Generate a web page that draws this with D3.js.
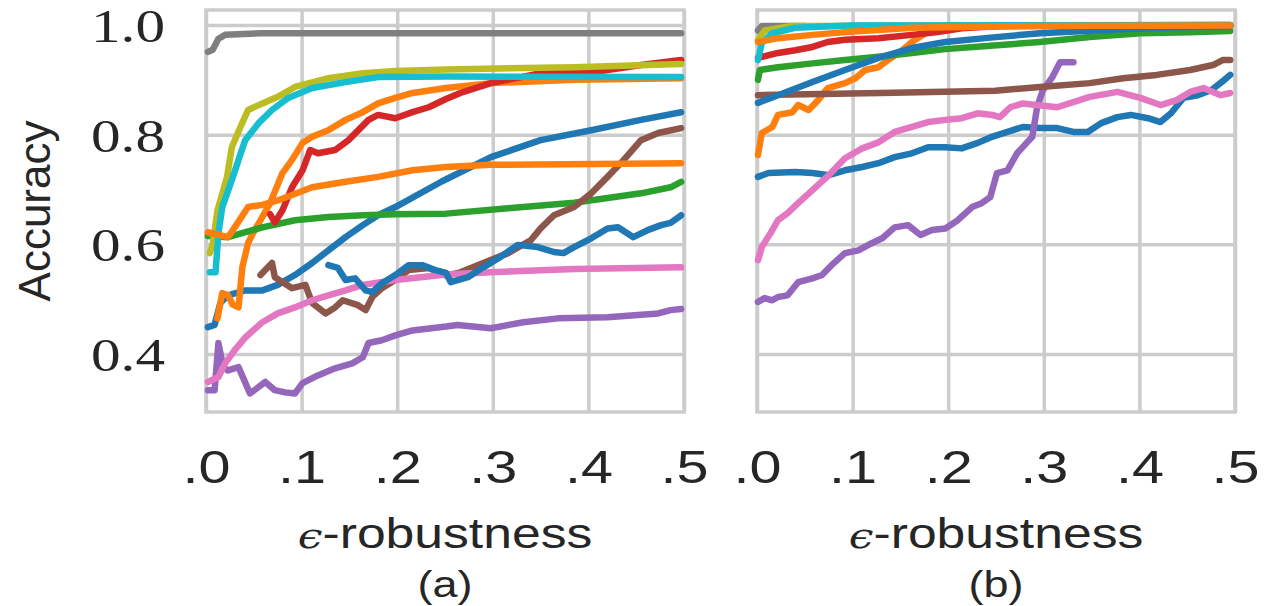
<!DOCTYPE html>
<html>
<head>
<meta charset="utf-8">
<script src="https://cdn.jsdelivr.net/npm/d3@7"></script>
<style>
  body { margin: 0; background: #fff; }
</style>
</head>
<body>
<script>
// panel (a): [epsilon, accuracy]
var aBlue1 = [[0.002,0.449],[0.009,0.453],[0.015,0.493],[0.023,0.507],[0.041,0.516],[0.059,0.516],[0.075,0.526],[0.093,0.544],[0.111,0.566],[0.128,0.589],[0.146,0.613],[0.164,0.635],[0.18,0.653],[0.198,0.668],[0.247,0.715],[0.298,0.759],[0.35,0.79],[0.403,0.808],[0.455,0.827],[0.497,0.841]];
var aOrange1 = [[0.012,0.465],[0.017,0.511],[0.023,0.507],[0.028,0.49],[0.034,0.485],[0.038,0.558],[0.044,0.602],[0.049,0.62],[0.059,0.65],[0.067,0.675],[0.08,0.73],[0.09,0.754],[0.101,0.785],[0.111,0.796],[0.128,0.808],[0.146,0.827],[0.164,0.841],[0.18,0.857],[0.198,0.867],[0.216,0.876],[0.251,0.885],[0.298,0.894],[0.385,0.9],[0.497,0.903]];
var aGreen = [[0.002,0.615],[0.023,0.613],[0.059,0.631],[0.093,0.644],[0.128,0.65],[0.164,0.653],[0.198,0.655],[0.251,0.656],[0.316,0.666],[0.385,0.676],[0.455,0.693],[0.486,0.704],[0.497,0.714]];
var aRed = [[0.067,0.655],[0.072,0.64],[0.08,0.662],[0.09,0.704],[0.101,0.735],[0.109,0.772],[0.117,0.766],[0.135,0.772],[0.149,0.79],[0.17,0.827],[0.18,0.836],[0.198,0.83],[0.216,0.841],[0.233,0.85],[0.251,0.865],[0.266,0.876],[0.298,0.894],[0.35,0.912],[0.413,0.916],[0.455,0.927],[0.497,0.936]];
var aPurple = [[0.002,0.334],[0.009,0.334],[0.013,0.42],[0.018,0.376],[0.023,0.37],[0.034,0.376],[0.046,0.328],[0.062,0.349],[0.072,0.334],[0.083,0.33],[0.093,0.328],[0.101,0.347],[0.117,0.361],[0.135,0.374],[0.153,0.383],[0.164,0.394],[0.17,0.42],[0.184,0.425],[0.198,0.434],[0.216,0.443],[0.251,0.45],[0.263,0.453],[0.298,0.447],[0.332,0.458],[0.368,0.465],[0.42,0.467],[0.473,0.474],[0.486,0.48],[0.497,0.482]];
var aBrown = [[0.057,0.544],[0.069,0.566],[0.072,0.54],[0.09,0.52],[0.104,0.526],[0.111,0.493],[0.125,0.474],[0.135,0.485],[0.143,0.498],[0.159,0.489],[0.167,0.48],[0.174,0.504],[0.184,0.52],[0.198,0.535],[0.212,0.553],[0.233,0.557],[0.251,0.543],[0.266,0.549],[0.29,0.566],[0.316,0.584],[0.34,0.608],[0.35,0.629],[0.364,0.653],[0.385,0.668],[0.403,0.693],[0.42,0.723],[0.437,0.754],[0.455,0.79],[0.473,0.803],[0.497,0.812]];
var aPink = [[0.002,0.349],[0.013,0.358],[0.02,0.383],[0.03,0.407],[0.041,0.43],[0.059,0.458],[0.075,0.474],[0.093,0.485],[0.111,0.498],[0.128,0.507],[0.146,0.516],[0.164,0.526],[0.198,0.535],[0.251,0.545],[0.298,0.549],[0.385,0.555],[0.497,0.558]];
var aGray = [[0.002,0.951],[0.007,0.955],[0.013,0.975],[0.02,0.982],[0.057,0.985],[0.497,0.985]];
var aOlive = [[0.004,0.584],[0.007,0.6],[0.012,0.662],[0.022,0.723],[0.027,0.777],[0.036,0.814],[0.044,0.845],[0.059,0.857],[0.075,0.869],[0.093,0.887],[0.128,0.903],[0.164,0.912],[0.198,0.916],[0.251,0.919],[0.385,0.923],[0.497,0.929]];
var aCyan = [[0.004,0.549],[0.01,0.549],[0.013,0.62],[0.017,0.668],[0.027,0.717],[0.034,0.754],[0.041,0.79],[0.055,0.821],[0.069,0.845],[0.086,0.867],[0.111,0.885],[0.146,0.896],[0.18,0.905],[0.251,0.906],[0.497,0.905]];
var aBlue2 = [[0.128,0.562],[0.138,0.557],[0.146,0.535],[0.156,0.538],[0.167,0.516],[0.174,0.513],[0.184,0.529],[0.198,0.544],[0.212,0.562],[0.226,0.562],[0.24,0.553],[0.251,0.548],[0.256,0.531],[0.274,0.54],[0.29,0.558],[0.308,0.577],[0.326,0.599],[0.347,0.595],[0.364,0.586],[0.374,0.584],[0.385,0.595],[0.403,0.611],[0.42,0.629],[0.431,0.631],[0.447,0.613],[0.462,0.626],[0.476,0.635],[0.486,0.639],[0.497,0.653]];
var aOrange2 = [[0.002,0.622],[0.023,0.613],[0.03,0.631],[0.044,0.668],[0.059,0.672],[0.075,0.68],[0.111,0.704],[0.146,0.714],[0.18,0.723],[0.216,0.735],[0.251,0.741],[0.298,0.745],[0.497,0.748]];

// panel (b): [epsilon, accuracy]
var bBlue1 = [[0.001,0.723],[0.012,0.73],[0.04,0.732],[0.058,0.73],[0.075,0.726],[0.092,0.735],[0.11,0.741],[0.127,0.748],[0.144,0.759],[0.162,0.766],[0.179,0.777],[0.197,0.777],[0.214,0.775],[0.231,0.785],[0.244,0.795],[0.262,0.805],[0.278,0.814],[0.296,0.812],[0.314,0.812],[0.331,0.805],[0.346,0.805],[0.36,0.821],[0.377,0.832],[0.391,0.836],[0.409,0.83],[0.422,0.823],[0.433,0.839],[0.446,0.867],[0.461,0.872],[0.475,0.881],[0.489,0.9],[0.495,0.909]];
var bOrange1 = [[0.001,0.763],[0.005,0.803],[0.016,0.814],[0.022,0.836],[0.037,0.841],[0.043,0.854],[0.054,0.845],[0.064,0.863],[0.074,0.885],[0.092,0.894],[0.103,0.903],[0.113,0.918],[0.127,0.923],[0.137,0.936],[0.152,0.954],[0.162,0.969],[0.176,0.985],[0.186,0.994],[0.212,0.998],[0.495,1.0]];
var bGreen = [[0.001,0.9],[0.003,0.918],[0.022,0.923],[0.058,0.93],[0.092,0.936],[0.127,0.942],[0.162,0.949],[0.197,0.956],[0.244,0.962],[0.296,0.969],[0.348,0.978],[0.401,0.985],[0.453,0.987],[0.495,0.989]];
var bRed = [[0.001,0.94],[0.022,0.949],[0.04,0.954],[0.058,0.96],[0.074,0.969],[0.092,0.973],[0.127,0.976],[0.162,0.982],[0.189,0.987],[0.214,0.994],[0.254,0.998],[0.495,0.999]];
var bPurple = [[0.001,0.495],[0.008,0.502],[0.016,0.498],[0.022,0.504],[0.032,0.507],[0.043,0.531],[0.058,0.538],[0.068,0.544],[0.078,0.562],[0.092,0.584],[0.106,0.589],[0.12,0.602],[0.131,0.611],[0.144,0.631],[0.158,0.635],[0.171,0.617],[0.183,0.626],[0.197,0.629],[0.21,0.644],[0.225,0.668],[0.235,0.675],[0.244,0.686],[0.251,0.73],[0.262,0.735],[0.272,0.766],[0.282,0.785],[0.288,0.796],[0.293,0.85],[0.299,0.881],[0.309,0.905],[0.317,0.932],[0.331,0.932]];
var bBrown = [[0.001,0.872],[0.129,0.876],[0.249,0.88],[0.296,0.887],[0.348,0.894],[0.383,0.903],[0.418,0.909],[0.453,0.918],[0.477,0.927],[0.487,0.936],[0.495,0.936]];
var bPink = [[0.001,0.571],[0.005,0.595],[0.014,0.62],[0.022,0.644],[0.032,0.657],[0.043,0.675],[0.058,0.699],[0.075,0.726],[0.092,0.757],[0.11,0.775],[0.127,0.786],[0.144,0.805],[0.162,0.814],[0.179,0.823],[0.197,0.827],[0.214,0.83],[0.231,0.839],[0.246,0.836],[0.254,0.832],[0.265,0.85],[0.278,0.857],[0.314,0.85],[0.348,0.869],[0.377,0.878],[0.401,0.867],[0.422,0.854],[0.439,0.863],[0.453,0.878],[0.467,0.885],[0.485,0.872],[0.495,0.876]];
var bGray = [[0.001,0.99],[0.005,0.998],[0.05,0.998]];
var bOlive = [[0.001,0.973],[0.008,0.99],[0.035,0.998],[0.495,1.0]];
var bCyan = [[0.001,0.936],[0.005,0.967],[0.016,0.985],[0.04,0.995],[0.097,0.999],[0.495,1.0]];
var bBlue2 = [[0.001,0.858],[0.022,0.872],[0.058,0.896],[0.092,0.918],[0.127,0.94],[0.162,0.958],[0.197,0.969],[0.244,0.977],[0.296,0.985],[0.401,0.994],[0.495,0.998]];
var bOrange2 = [[0.001,0.969],[0.022,0.976],[0.058,0.982],[0.092,0.987],[0.127,0.991],[0.162,0.995],[0.197,0.996],[0.296,0.998],[0.495,0.999]];

var colors = ["#1f77b4","#ff7f0e","#2ca02c","#d62728","#9467bd","#8c564b","#e377c2","#7f7f7f","#bcbd22","#17becf","#1f77b4","#ff7f0e"];
var seriesA = [aBlue1, aOrange1, aGreen, aRed, aPurple, aBrown, aPink, aGray, aOlive, aCyan, aBlue2, aOrange2];
var seriesB = [bBlue1, bOrange1, bGreen, bRed, bPurple, bBrown, bPink, bGray, bOlive, bCyan, bBlue2, bOrange2];
var xTicks = [0, 0.1, 0.2, 0.3, 0.4, 0.5];
var yTicks = [0.4, 0.6, 0.8, 1.0];
var panelNames = ["(a)", "(b)"];

var w = 1264;
var h = 606;
var textColor = "#262626";
var gridColor = "#cccccc";

var svg = d3.select("body")
      .append("svg")
      .attr("width", w)
      .attr("height", h);

var yTop = 10, yBottom = 412;
var y = d3.scaleLinear().domain([0.4, 1.0]).range([354, 25]);

var panels = [
  {x0: 206, x1: 684, data: seriesA, name: panelNames[0]},
  {x0: 757, x1: 1235, data: seriesB, name: panelNames[1]}
];

panels.forEach(function(p, i) {
  var x = d3.scaleLinear().domain([0, 0.5]).range([p.x0, p.x1]);
  var g = svg.append("g");

  // grid
  g.append("g")
    .attr("transform", "translate(0," + yBottom + ")")
    .call(d3.axisBottom(x).tickValues(xTicks).tickSize(-(yBottom - yTop)).tickFormat(""))
    .call(function(a) { a.select(".domain").remove(); })
    .selectAll("line").attr("stroke", gridColor).attr("stroke-width", 3.5);

  g.append("g")
    .attr("transform", "translate(" + p.x0 + ",0)")
    .call(d3.axisLeft(y).tickValues(yTicks).tickSize(-(p.x1 - p.x0)).tickFormat(""))
    .call(function(a) { a.select(".domain").remove(); })
    .selectAll("line").attr("stroke", gridColor).attr("stroke-width", 3.5);

  // frame
  g.append("rect")
    .attr("x", p.x0).attr("y", yTop)
    .attr("width", p.x1 - p.x0).attr("height", yBottom - yTop)
    .attr("fill", "none").attr("stroke", gridColor).attr("stroke-width", 3.5);

  var line = d3.line()
    .x(function(d) { return x(d[0]); })
    .y(function(d) { return y(d[1]); });

  g.selectAll("path.series")
    .data(p.data)
    .enter()
    .append("path")
    .attr("class", "series")
    .attr("d", line)
    .attr("fill", "none")
    .attr("stroke", function(d, k) { return colors[k]; })
    .attr("stroke-width", 6.5)
    .attr("stroke-linejoin", "round")
    .attr("stroke-linecap", "round");

  // x tick labels
  var xa = g.append("g")
    .attr("transform", "translate(0,483)")
    .call(d3.axisBottom(x).tickValues(xTicks).tickSize(0).tickPadding(0)
      .tickFormat(function(d) { return "." + Math.round(d * 10); }));
  xa.select(".domain").remove();
  xa.selectAll("text")
    .attr("y", 0).attr("dy", 0)
    .attr("font-family", "'Liberation Sans', Arial, sans-serif")
    .attr("font-size", 46)
    .attr("fill", textColor)
    .attr("textLength", 48)
    .attr("lengthAdjust", "spacingAndGlyphs");

  var cx = (p.x0 + p.x1) / 2;
  var xl = g.append("text")
    .attr("transform", "translate(" + cx + ",548) scale(1.23,1)")
    .attr("text-anchor", "middle")
    .attr("font-family", "'Liberation Sans', Arial, sans-serif")
    .attr("font-size", 42)
    .attr("fill", textColor);
  xl.append("tspan")
    .attr("font-family", "'DejaVu Serif', serif")
    .attr("font-style", "italic")
    .attr("font-size", 36)
    .text("\u03f5");
  xl.append("tspan").text("-robustness");

  g.append("text")
    .attr("transform", "translate(" + cx + ",597) scale(1.25,1)")
    .attr("text-anchor", "middle")
    .attr("font-family", "'Liberation Sans', Arial, sans-serif")
    .attr("font-size", 36)
    .attr("fill", textColor)
    .text(p.name);

  if (i === 0) {
    var ya = g.append("g")
      .attr("transform", "translate(165,0)")
      .call(d3.axisLeft(y).tickValues(yTicks).tickSize(0).tickPadding(0)
        .tickFormat(d3.format(".1f")));
    ya.select(".domain").remove();
    ya.selectAll("text")
      .attr("x", 0).attr("dy", "0.36em")
      .attr("text-anchor", "end")
      .attr("font-family", "'Liberation Serif', 'Times New Roman', serif")
      .attr("font-size", 46)
      .attr("fill", textColor)
      .attr("textLength", 74)
      .attr("lengthAdjust", "spacingAndGlyphs");

    g.append("text")
      .attr("transform", "translate(50,211) rotate(-90)")
      .attr("text-anchor", "middle")
      .attr("font-family", "'Liberation Sans', Arial, sans-serif")
      .attr("font-size", 44)
      .attr("fill", textColor)
      .text("Accuracy");
  }
});
</script>
</body>
</html>
